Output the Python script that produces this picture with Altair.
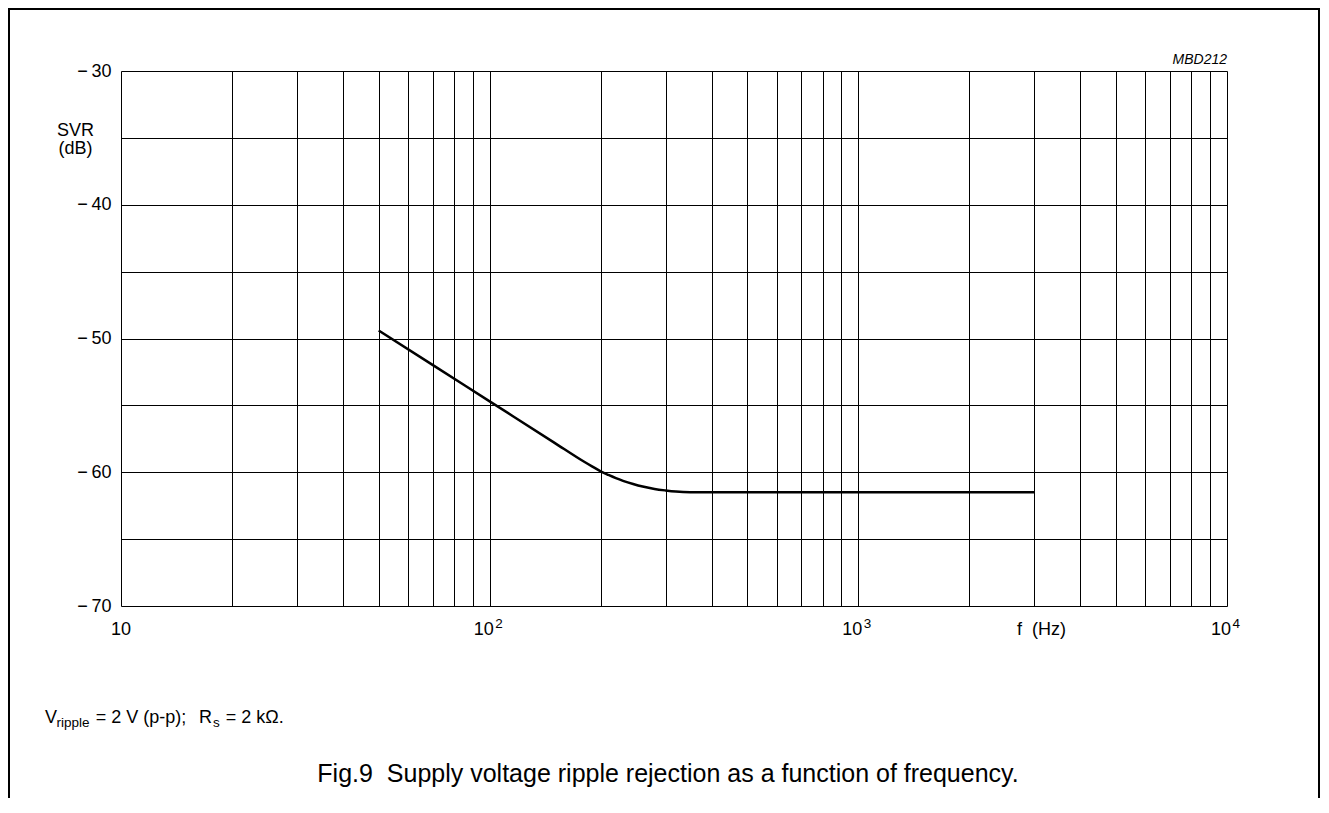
import altair as alt
import pandas as pd

# ---- data ----
freq_hz = [50, 70, 100, 150, 180, 190, 200, 210, 220, 230, 245, 260, 280, 300, 320, 350, 400,
           1000, 3000]
svr_db = [-49.4, -51.97, -54.7, -57.8, -59.2, -59.58, -59.93, -60.2, -60.44, -60.64, -60.88,
          -61.07, -61.25, -61.36, -61.44, -61.49, -61.5, -61.5, -61.5]

x_grid = [10, 20, 30, 40, 50, 60, 70, 80, 90,
          100, 200, 300, 400, 500, 600, 700, 800, 900,
          1000, 2000, 3000, 4000, 5000, 6000, 7000, 8000, 9000, 10000]
y_grid = [-70, -65, -60, -55, -50, -45, -40, -35, -30]

decade_values = [10, 100, 1000, 10000]
decade_base = ["10", "10", "10", "10"]
decade_exp = ["", "2", "3", "4"]

FONT = "Liberation Sans"
W, H = 1106, 535
PAD_L, PAD_T, PAD_R, PAD_B = 113, 63, 94, 192
BOTTOM = H + PAD_B
RIGHT = W + PAD_R - 2

curve = pd.DataFrame({"f": freq_hz, "svr": svr_db})
dec = pd.DataFrame({"f": decade_values, "base": decade_base, "exp": decade_exp})
one = pd.DataFrame({"a": [0]})

xscale = alt.Scale(type="log", domain=[10, 10000], nice=False)
yscale = alt.Scale(domain=[-70, -30], nice=False, zero=False)

xaxis = alt.Axis(
    values=x_grid, labels=False, ticks=False, domain=False,
    grid=True, gridColor="black", gridWidth=1, gridOpacity=1,
    title="f\u00a0 (Hz)", titleX=920, titleY=28.5, titleAlign="center",
    titleBaseline="alphabetic", titleFontSize=18, titleFontWeight="normal",
    titleColor="black", titleAngle=0, titleFont=FONT)

yaxis = alt.Axis(
    values=y_grid, labelExpr="datum.value % 10 == 0 ? '\u2212\u2009' + (-datum.value) : ''",
    ticks=False, domain=False, grid=True, gridColor="black", gridWidth=1, gridOpacity=1,
    labelFontSize=18, labelColor="black", labelPadding=10, labelBaseline="middle",
    labelAlign="right", labelOverlap=False, labelFont=FONT,
    title=["SVR", "(dB)"], titleAngle=0, titleX=-46, titleY=64, titleAlign="center",
    titleBaseline="alphabetic", titleFontSize=18, titleFontWeight="normal",
    titleLineHeight=18, titleColor="black", titleFont=FONT)

line = alt.Chart(curve).mark_line(color="black", strokeWidth=2.5, interpolate="monotone").encode(
    x=alt.X("f:Q", scale=xscale, axis=xaxis),
    y=alt.Y("svr:Q", scale=yscale, axis=yaxis),
)

lab_first = alt.Chart(dec).transform_filter("datum.exp == ''").mark_text(
    align="center", baseline="alphabetic", fontSize=18, font=FONT, color="black"
).encode(x=alt.X("f:Q", scale=xscale, axis=xaxis), y=alt.value(H + 28.5), text="base:N")

lab_base = alt.Chart(dec).transform_filter("datum.exp != ''").mark_text(
    align="right", baseline="alphabetic", fontSize=18, font=FONT, color="black", dx=4
).encode(x=alt.X("f:Q", scale=xscale, axis=xaxis), y=alt.value(H + 28.5), text="base:N")

lab_exp = alt.Chart(dec).transform_filter("datum.exp != ''").mark_text(
    align="left", baseline="alphabetic", fontSize=13.5, font=FONT, color="black", dx=5.5
).encode(x=alt.X("f:Q", scale=xscale, axis=xaxis), y=alt.value(H + 21.5), text="exp:N")


def txt(s, x, y, size, align="left", style="normal"):
    return alt.Chart(one).mark_text(
        text=s, align=align, baseline="alphabetic", fontSize=size, font=FONT,
        color="black", fontStyle=style
    ).encode(x=alt.value(x), y=alt.value(y))


code = txt("MBD212", W, -7, 14, align="right", style="italic")
fn_y, sub_y = 652, 656
foot = [
    txt("V", -76, fn_y, 18),
    txt("ripple", -64.5, sub_y, 13.5),
    txt("= 2 V (p-p);", -25.3, fn_y, 18),
    txt("R", 78, fn_y, 18),
    txt("s", 92, sub_y, 13.5),
    txt("= 2 k\u03a9.", 104.7, fn_y, 18),
]
caption = txt("Fig.9\u00a0 Supply voltage ripple rejection as a function of frequency.", 547, 711, 25,
              align="center")

frame_left = alt.Chart(one).mark_rule(color="black", strokeWidth=2).encode(
    x=alt.value(-112), y=alt.value(-62), y2=alt.value(BOTTOM))
frame_right = alt.Chart(one).mark_rule(color="black", strokeWidth=2).encode(
    x=alt.value(RIGHT), y=alt.value(-62), y2=alt.value(BOTTOM))
frame_top = alt.Chart(one).mark_rule(color="black", strokeWidth=2).encode(
    x=alt.value(-113), x2=alt.value(RIGHT + 1), y=alt.value(-62))

chart = alt.layer(
    line, lab_first, lab_base, lab_exp, code, *foot, caption, frame_left, frame_right, frame_top
).properties(
    width=W, height=H,
    autosize=alt.AutoSizeParams(type="none"),
    padding={"left": PAD_L, "top": PAD_T, "right": PAD_R, "bottom": PAD_B},
    background="white",
).configure_view(stroke="black", strokeWidth=1).configure(font=FONT)

chart.save("out.html", embed_options={"renderer": "svg", "actions": False})
